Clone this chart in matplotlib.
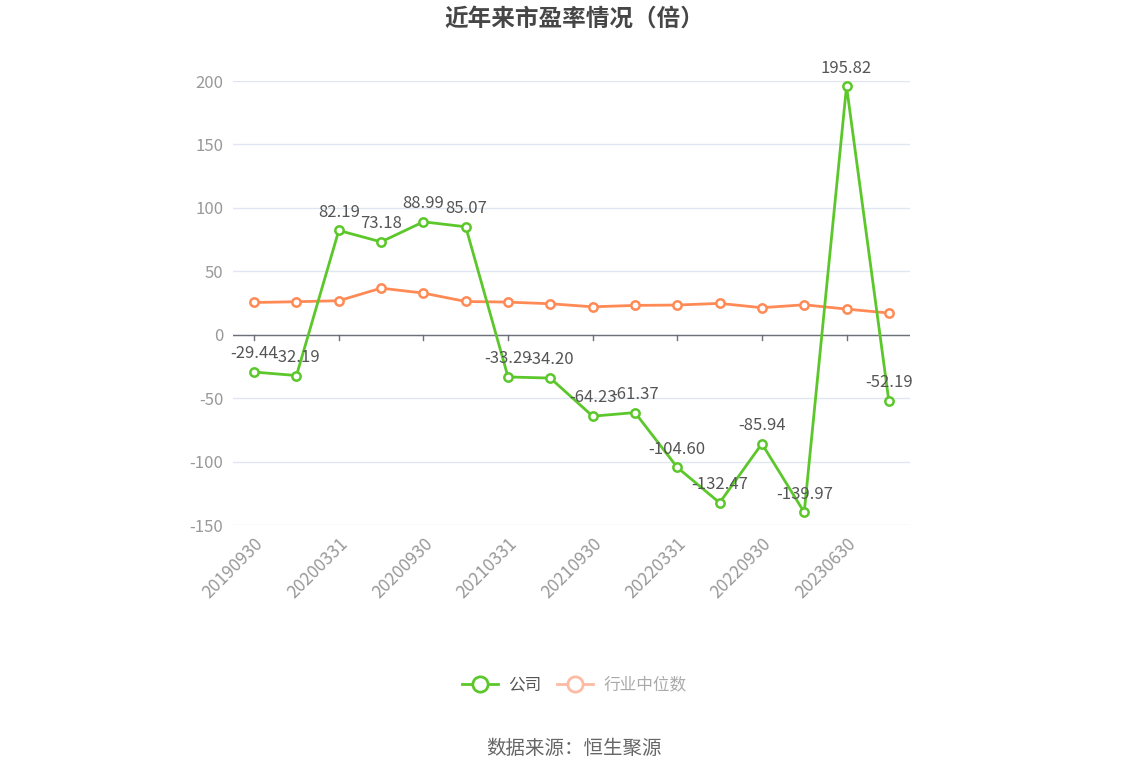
import matplotlib
matplotlib.use("Agg")
import matplotlib.pyplot as plt
from matplotlib.lines import Line2D

plt.rcParams['font.family'] = ['Noto Sans CJK SC', 'DejaVu Sans']

dates = ["20190930", "20191231", "20200331", "20200630", "20200930", "20201231",
         "20210331", "20210630", "20210930", "20211231", "20220331", "20220630",
         "20220930", "20230331", "20230630", "20230930"]
company = [-29.44, -32.19, 82.19, 73.18, 88.99, 85.07, -33.29, -34.20, -64.23, -61.37,
           -104.60, -132.47, -85.94, -139.97, 195.82, -52.19]
industry = [25.4, 26.0, 26.8, 36.7, 32.8, 26.2, 25.7, 24.4, 22.0, 23.1,
            23.4, 24.7, 21.3, 23.6, 20.2, 17.1]
yticks = [-150, -100, -50, 0, 50, 100, 150, 200]

green = '#5BC72A'
orange = '#FF8A55'

fig = plt.figure(figsize=(11.48, 7.76), dpi=100)
ax = fig.add_axes([233/1148, 1-525/776, (910-233)/1148, (525-81)/776])

x = list(range(len(dates)))
ax.plot(x, industry, color=orange, lw=2, marker='o', ms=6, mfc='white', mec=orange, mew=1.8, zorder=3)
ax.plot(x, company, color=green, lw=2, marker='o', ms=6, mfc='white', mec=green, mew=1.8, zorder=4)

for xi, v in zip(x, company):
    ax.annotate(f"{v:.2f}", (xi, v), xytext=(0, 7), textcoords='offset points',
                ha='center', va='bottom', fontsize=12, color='#555555', zorder=5)

ax.set_xlim(-0.5, len(dates) - 0.5)
ax.set_ylim(-150, 200)
ax.set_yticks(yticks)
ax.set_yticklabels([str(t) for t in yticks], color='#999999', fontsize=12)
ax.tick_params(axis='y', length=0, pad=7)
ax.grid(axis='y', color='#E0E6F1', lw=1)
ax.set_axisbelow(True)
for s in ['top', 'right', 'left', 'bottom']:
    ax.spines[s].set_visible(False)
ax.axhline(0, color='#6E7079', lw=1, zorder=2)

ax.set_xticks(x[::2])
ax.set_xticklabels(dates[::2], rotation=45, ha='right', rotation_mode='anchor',
                   color='#999999', fontsize=12.5)
ax.tick_params(axis='x', length=0, pad=7)
for xi in x[::2]:
    ax.plot([xi, xi], [0, -4], color='#6E7079', lw=1, zorder=2, clip_on=False)

fig.text(0.5, 1-19/776, "近年来市盈率情况（倍）", ha='center', va='center',
         fontsize=17, fontweight='bold', color='#464646')

h1 = Line2D([], [], color=green, lw=2, marker='o', ms=11, mfc='white', mec=green, mew=2)
h2 = Line2D([], [], color='#FDBBA5', lw=2, marker='o', ms=11, mfc='white', mec='#FDBBA5', mew=2)
leg = fig.legend([h1, h2], ["公司", "行业中位数"], loc='center', bbox_to_anchor=(0.5, 1-685/776),
                 ncol=2, frameon=False, fontsize=12, handlelength=2.2, columnspacing=0.9,
                 handletextpad=0.6)
leg.get_texts()[0].set_color('#555555')
leg.get_texts()[1].set_color('#AAAAAA')

fig.text(0.5, 1-748/776, "数据来源：恒生聚源", ha='center', va='center', fontsize=14, color='#666666')

fig.savefig("out.png", dpi=100, facecolor='white')
